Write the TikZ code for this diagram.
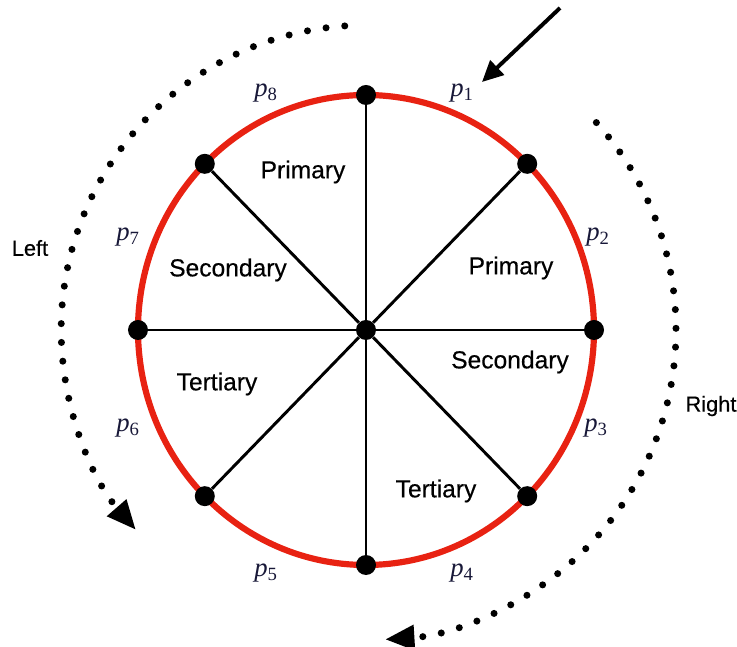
\documentclass[tikz,border=0pt]{standalone}
\usepackage{fontspec}
\setmainfont{Liberation Sans}[FakeBold=0.4]
\newfontfamily\pfont{Liberation Serif}
\usetikzlibrary{arrows.meta}

\definecolor{rimred}{RGB}{232,34,18}
\definecolor{plabel}{RGB}{24,24,56}

\newcommand{\plab}[1]{{\pfont\itshape p\textsubscript{\upshape #1}}}

\begin{document}
\begin{tikzpicture}[
    dot/.style={circle, fill=black, minimum size=0.5cm, inner sep=0pt},
    spoke/.style={line width=2.1pt},
    rim/.style={draw=rimred, line width=4.4pt},
    sector/.style={font=\fontsize{17.5}{20}\selectfont},
    side/.style={font=\fontsize{15.5}{18}\selectfont},
    plab/.style={text=plabel, font=\fontsize{19}{22}\selectfont},
    turn/.style={line width=5pt, line cap=round, dash pattern=on 0pt off 0.47cm,
                 -{Triangle[length=21pt, width=17pt]}}
]
\useasboundingbox (-9.15,-7.925) rectangle (9.275,8.25);

% Rim
\draw[rim] (0,0) ellipse [x radius=5.7, y radius=5.875];

% Dots
\node[dot] (c) at (0,0) {};
\node[dot] (d1) at (0,5.875) {};
\node[dot] (d2) at (4.03,4.154) {};
\node[dot] (d3) at (5.7,0) {};
\node[dot] (d4) at (4.03,-4.154) {};
\node[dot] (d5) at (0,-5.875) {};
\node[dot] (d6) at (-4.03,-4.154) {};
\node[dot] (d7) at (-5.7,0) {};
\node[dot] (d8) at (-4.03,4.154) {};

% Spokes
\draw[spoke] (c) -- (d1);
\draw[spoke] (c) -- (d2);
\draw[spoke] (c) -- (d3);
\draw[spoke] (c) -- (d4);
\draw[spoke] (c) -- (d5);
\draw[spoke] (c) -- (d6);
\draw[spoke] (c) -- (d7);
\draw[spoke] (c) -- (d8);

% Sectors
\node[sector] (s1) at (-1.575,3.95) {Primary};
\node[sector] (s2) at (3.625,1.55) {Primary};
\node[sector] (s3) at (-3.45,1.5) {Secondary};
\node[sector] (s4) at (3.6,-0.8) {Secondary};
\node[sector] (s5) at (-3.725,-1.35) {Tertiary};
\node[sector] (s6) at (1.75,-4.025) {Tertiary};

% Positions
\node[plab] (p1) at (2.4,5.925) {\plab{1}};
\node[plab] (p2) at (5.8,2.325) {\plab{2}};
\node[plab] (p3) at (5.75,-2.45) {\plab{3}};
\node[plab] (p4) at (2.4,-6.075) {\plab{4}};
\node[plab] (p5) at (-2.5,-6.075) {\plab{5}};
\node[plab] (p6) at (-5.95,-2.45) {\plab{6}};
\node[plab] (p7) at (-5.95,2.325) {\plab{7}};
\node[plab] (p8) at (-2.5,5.925) {\plab{8}};

% Directions
\node[side] (left) at (-8.4,2.05) {Left};
\node[side] (right) at (8.625,-1.9) {Right};
\draw[turn] ([shift={(94:7.62)}]c.center) arc[start angle=94, end angle=221, radius=7.62];
\draw[turn] ([shift={(42:7.75)}]c.center) arc[start angle=42, end angle=-86.5, radius=7.75];

% Entry
\coordinate (in) at (4.85,8.05);
\coordinate (hit) at (2.9,6.2);
\draw[line width=2.8pt, -{Triangle[length=15pt, width=14pt]}] (in) -- (hit);

\end{tikzpicture}
\end{document}
